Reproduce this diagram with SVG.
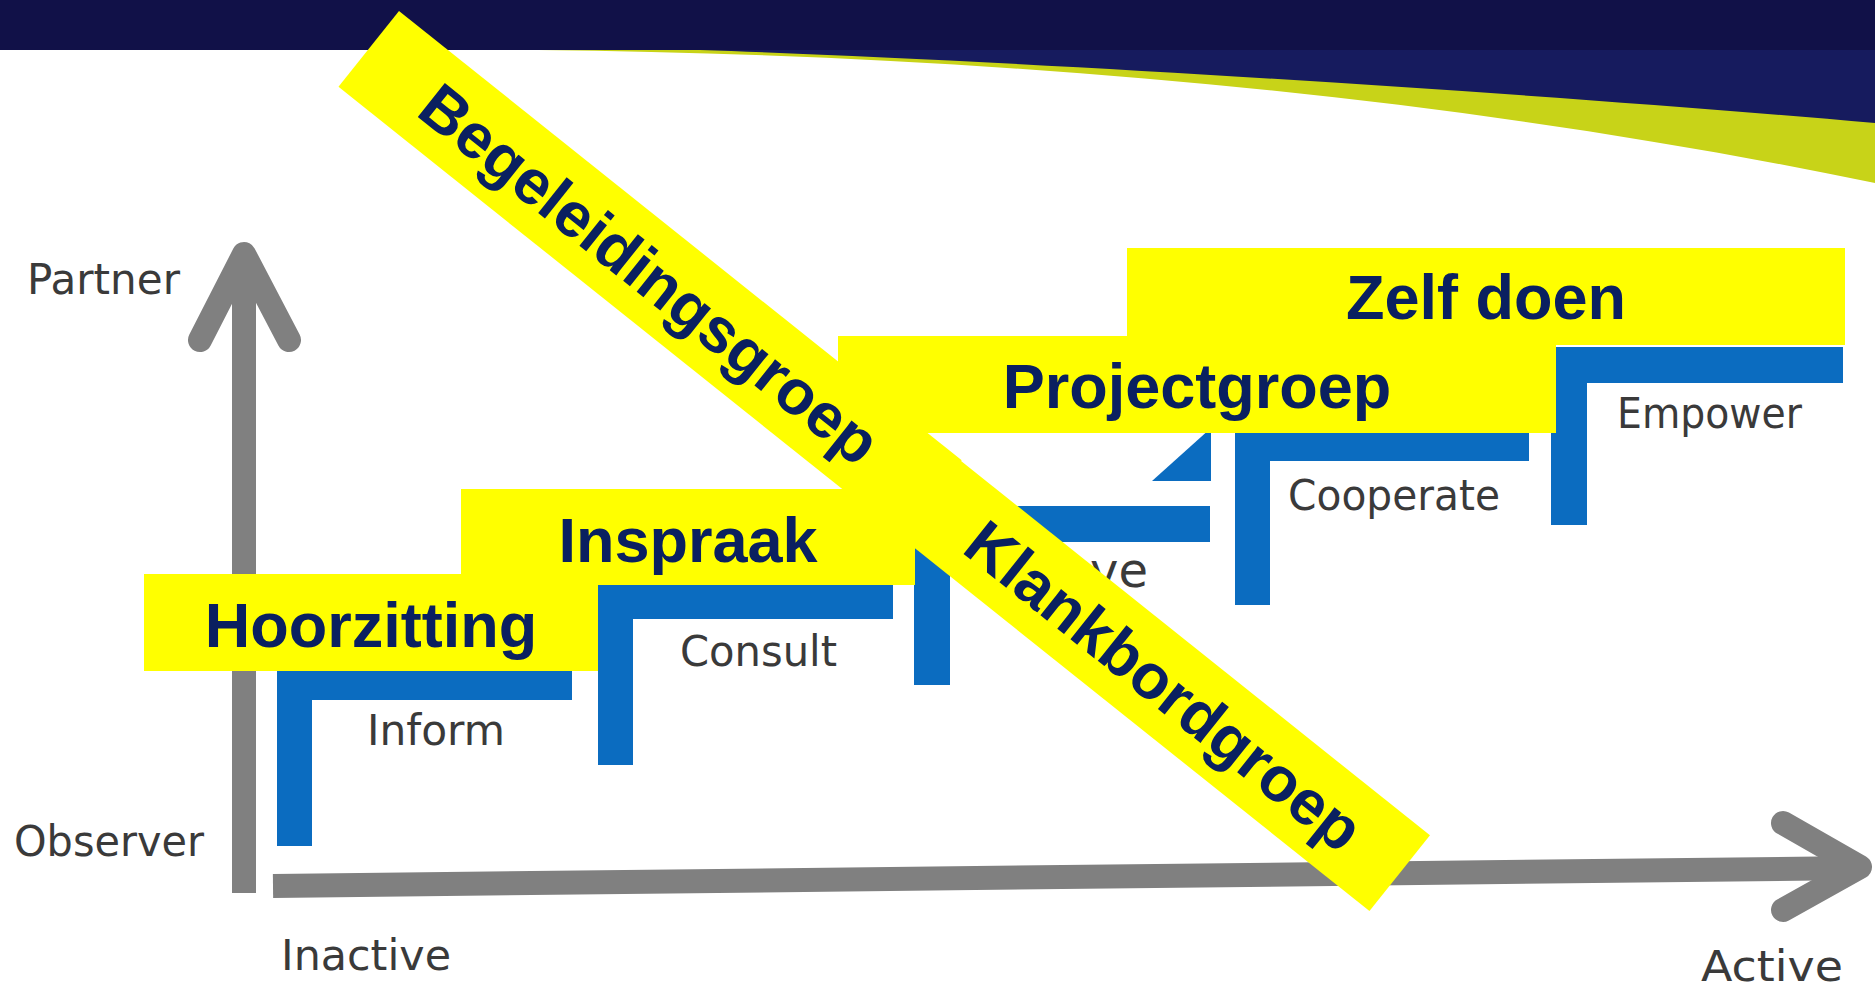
<svg xmlns="http://www.w3.org/2000/svg" width="1875" height="990" viewBox="0 0 1875 990">
<style>
.band{fill:#FFFF00}
.bt{font-family:"Liberation Sans",Arial,sans-serif;font-weight:bold;font-size:63px;fill:#0A2060;text-anchor:middle}
.lbl{font-family:"DejaVu Sans",sans-serif;font-size:42px;fill:#3a3a3a}
.step{fill:#0B6CC0}
.axis{stroke:#808080;stroke-width:24;fill:none}
.head{stroke:#808080;stroke-width:24;fill:none;stroke-linecap:round;stroke-linejoin:round}
</style>
<rect x="0" y="0" width="1875" height="990" fill="#FFFFFF"/>
<g id="header">
<path d="M538,50 C1000,55 1450,95 1875,183 V50 Z" fill="#C8D318"/>
<path d="M700,50 C1000,60 1500,90 1875,123 V50 Z" fill="#161B5E"/>
<rect x="0" y="0" width="1875" height="50" fill="#111148"/>
</g>
<g id="connectors">
<g id="axis-y">
<line class="axis" x1="244" y1="893" x2="244" y2="256"/>
<polyline class="head" points="200,340 244,254 289,340"/>
</g>
<g id="axis-x">
<line class="axis" x1="273" y1="886" x2="1858" y2="868"/>
<polyline class="head" points="1783,823 1860,867 1783,910"/>
</g>
</g>
<g id="axis-labels">
<text class="lbl" x="27" y="294" textLength="153" lengthAdjust="spacingAndGlyphs">Partner</text>
<text class="lbl" x="14" y="856" textLength="190" lengthAdjust="spacingAndGlyphs">Observer</text>
<text class="lbl" x="281" y="970" textLength="170" lengthAdjust="spacingAndGlyphs">Inactive</text>
<text class="lbl" x="1701" y="981" textLength="142" lengthAdjust="spacingAndGlyphs">Active</text>
</g>
<g id="step-inform">
<path class="step" d="M277,665 H572 V700 H312 V846 H277 Z"/>
<text class="lbl" x="367" y="745" textLength="138" lengthAdjust="spacingAndGlyphs">Inform</text>
</g>
<g id="step-consult">
<path class="step" d="M598,584 H893 V619 H633 V765 H598 Z"/>
<text class="lbl" x="680" y="666" textLength="157" lengthAdjust="spacingAndGlyphs">Consult</text>
</g>
<g id="step-involve">
<path class="step" d="M914,506 H1210 V542 H950 V685 H914 Z"/>
<polygon class="step" points="1152,481 1211,428 1211,481"/>
<text class="lbl" x="968" y="587" style="font-size:48px"><tspan letter-spacing="-3">Invol</tspan><tspan x="1090">ve</tspan></text>
</g>
<g id="step-cooperate">
<path class="step" d="M1235,426 H1529 V461 H1270 V605 H1235 Z"/>
<text class="lbl" x="1288" y="510" textLength="212" lengthAdjust="spacingAndGlyphs">Cooperate</text>
</g>
<g id="step-empower">
<path class="step" d="M1551,347 H1843 V383 H1587 V525 H1551 Z"/>
<text class="lbl" x="1617" y="428" textLength="185" lengthAdjust="spacingAndGlyphs">Empower</text>
</g>
<g id="hoorzitting">
<rect class="band" x="144" y="574" width="454" height="97"/>
<text class="bt" x="371" y="647">Hoorzitting</text>
</g>
<g id="inspraak">
<rect class="band" x="461" y="489" width="454" height="96"/>
<text class="bt" x="688" y="562">Inspraak</text>
</g>
<g id="zelf-doen">
<rect class="band" x="1127" y="248" width="718" height="97"/>
<text class="bt" x="1486" y="319">Zelf doen</text>
</g>
<g id="projectgroep">
<rect class="band" x="838" y="336" width="718" height="97"/>
<text class="bt" x="1197" y="408">Projectgroep</text>
</g>
<g id="klankbordgroep" transform="translate(399,11) rotate(38.6)">
<rect class="band" x="716" y="1" width="604" height="97"/>
<text class="bt" x="1019" y="72">Klankbordgroep</text>
</g>
<g id="begeleidingsgroep" transform="translate(399,11) rotate(38.6)">
<rect class="band" x="0" y="0" width="720" height="97"/>
<text class="bt" x="360" y="71">Begeleidingsgroep</text>
</g>
</svg>
